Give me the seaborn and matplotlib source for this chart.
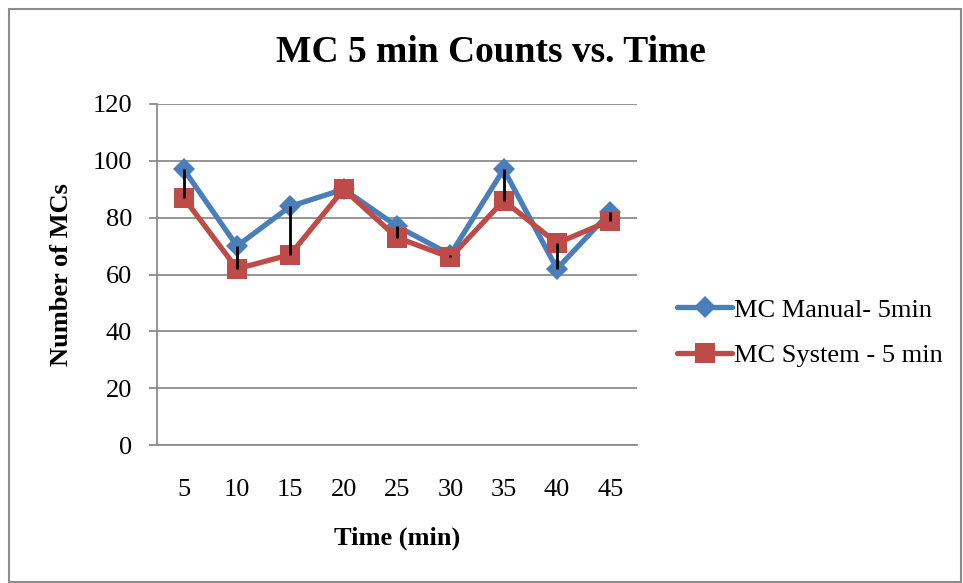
import matplotlib
matplotlib.use("Agg")
import matplotlib.pyplot as plt
import seaborn as sns
import pandas as pd
import numpy as np
from matplotlib.patches import Rectangle

times = ["5", "10", "15", "20", "25", "30", "35", "40", "45"]
manual = [97, 70, 84, 90, 77, 67, 97, 62, 82]
system = [87, 62, 67, 90, 73, 66, 86, 71, 79]
series_names = ["MC Manual- 5min", "MC System - 5 min"]
yticks = [0, 20, 40, 60, 80, 100, 120]

sns.set_style("white")
plt.rcParams['font.family'] = ['Liberation Serif', 'DejaVu Serif']
plt.rcParams['text.color'] = 'black'
plt.rcParams['axes.labelcolor'] = 'black'
plt.rcParams['xtick.color'] = 'black'
plt.rcParams['ytick.color'] = 'black'

idx = np.arange(len(times))
df = pd.DataFrame({
    "pos": np.concatenate([idx, idx]),
    "value": manual + system,
    "series": [series_names[0]] * len(times) + [series_names[1]] * len(times),
})

fig = plt.figure(figsize=(9.63, 5.83), dpi=100)
ax = fig.add_axes([157 / 963, 1 - 445 / 583, (637 - 157) / 963, (445 - 104) / 583])

blue = "#4A7EBB"
red = "#BE4B48"
sns.lineplot(data=df, x="pos", y="value", hue="series", style="series",
             palette=[blue, red], markers=["D", "s"], dashes=False,
             linewidth=3.8, markersize=13, markeredgewidth=0, ax=ax, zorder=3)
for line in ax.get_lines():
    if line.get_marker() == "s":
        line.set_markersize(14)
    elif line.get_marker() == "D":
        line.set_markersize(11)

# high-low lines
ax.vlines(idx, np.minimum(manual, system), np.maximum(manual, system),
          colors="black", linewidth=2.0, zorder=5)

ax.set_xlim(-0.5, len(times) - 0.5)
ax.set_ylim(0, 120)
ax.set_yticks(yticks)
ax.set_yticklabels([str(v) for v in yticks], fontsize=19)
ax.set_xticks(idx)
ax.set_xticklabels(times, fontsize=19)
ax.yaxis.grid(True, color="#8C8C8C", linewidth=1.3)
ax.set_axisbelow(True)
for s in ["top", "right"]:
    ax.spines[s].set_visible(False)
for s in ["left", "bottom"]:
    ax.spines[s].set_color("#8C8C8C")
    ax.spines[s].set_linewidth(1.3)
ax.tick_params(axis="y", which="major", direction="out", length=6, width=1.3,
               color="#8C8C8C", labelcolor="black", left=True, pad=12)
ax.tick_params(axis="x", length=0, pad=24.5, labelcolor="black")

ax.set_xlabel("Time (min)", fontsize=19, fontweight="bold", labelpad=18.5)
ax.set_ylabel("Number of MCs", fontsize=19, fontweight="bold", labelpad=14)
fig.suptitle("MC 5 min Counts vs. Time", x=491 / 963, y=1 - 53 / 583,
             va="center", fontsize=27, fontweight="bold")

h, l = ax.get_legend_handles_labels()
for hh in h:
    hh.set_linewidth(3.8)
ax.legend(h, l, loc="center left", bbox_to_anchor=(677 / 963, 1 - 332.5 / 583),
          bbox_transform=fig.transFigure, frameon=False, fontsize=19,
          handlelength=2.1, handletextpad=0.05, labelspacing=0.82,
          borderpad=0, borderaxespad=0)

fig.patches.append(Rectangle((9 / 963, 1 / 583), 952 / 963, 573 / 583,
                             transform=fig.transFigure, fill=False,
                             edgecolor="#8C8C8C", linewidth=1.5))

fig.savefig("out.png", dpi=100, facecolor="white")
